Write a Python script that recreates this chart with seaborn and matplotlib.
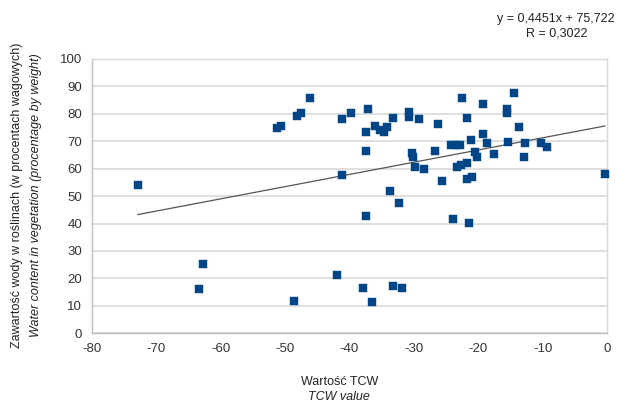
import numpy as np
import pandas as pd
import matplotlib
matplotlib.use("Agg")
import matplotlib.pyplot as plt
import seaborn as sns

# TCW values and water content
tcw = [-72.9, -51.3, -50.7, -48.2, -47.6, -46.1, -41.2, -39.8, -41.2, -37.2,
       -37.4, -37.5, -36.0, -35.3, -34.7, -34.1, -33.2, -30.7, -30.7, -29.2,
       -26.3, -22.5, -19.2, -21.8, -14.5, -15.6, -15.6, -13.7, -30.3, -30.1,
       -29.8, -28.5, -26.7, -25.7, -33.7, -32.3, -37.5, -23.9, -21.5, -24.3,
       -23.4, -22.8, -21.1, -19.3, -18.7, -20.5, -20.2, -23.3, -22.7, -21.8,
       -21.7, -21.0, -17.5, -15.3, -12.8, -12.9, -10.3, -9.3, -0.3, -41.9,
       -37.9, -33.3, -31.9, -36.5, -62.7, -63.3, -48.6]
water = [54.1, 75.0, 75.6, 79.2, 80.4, 85.7, 78.0, 80.2, 57.7, 81.8,
         73.5, 66.6, 75.6, 74.1, 73.5, 75.3, 78.4, 80.8, 79.0, 78.0,
         76.2, 85.7, 83.6, 78.4, 87.7, 81.7, 80.4, 75.1, 65.6, 64.4,
         60.5, 60.0, 66.5, 55.6, 51.8, 47.4, 42.9, 41.6, 40.1, 68.6,
         68.6, 68.6, 70.5, 72.5, 69.3, 66.2, 64.4, 60.7, 61.4, 62.0,
         56.1, 57.1, 65.3, 69.6, 69.3, 64.4, 69.3, 68.0, 58.0, 21.1,
         16.4, 17.2, 16.4, 11.3, 25.3, 16.3, 11.9]

slope = 0.4451
intercept = 75.722
r_value = 0.3022

df = pd.DataFrame({"tcw": tcw, "water": water})

sns.set_style("white")
plt.rcParams["font.family"] = ["Liberation Sans", "DejaVu Sans"]
plt.rcParams["axes.unicode_minus"] = False

fig = plt.figure(figsize=(6.19, 4.03), dpi=100)
ax = fig.add_axes([0.1486, 0.173, 0.8320, 0.6806])

grid_c = "#d9d9d9"
ax.set_xlim(-80, 0)
ax.set_ylim(0, 100)
ax.set_xticks(np.arange(-80, 1, 10))
ax.set_yticks(np.arange(0, 101, 10))
ax.yaxis.grid(True, color=grid_c, lw=1.2)
ax.set_axisbelow(True)

# trend line
xs = np.array([min(tcw), max(tcw)])
ax.plot(xs, slope * xs + intercept, color="#555555", lw=0.9, zorder=2)

sns.scatterplot(data=df, x="tcw", y="water", marker="s", s=38,
                color="#004586", edgecolor="#004586", linewidth=0.3,
                ax=ax, zorder=3, clip_on=False)

for side in ["top", "right"]:
    ax.spines[side].set_color(grid_c)
    ax.spines[side].set_linewidth(1.0)
for side in ["left", "bottom"]:
    ax.spines[side].set_color("#bdbdbd")
    ax.spines[side].set_linewidth(1.0)

ax.tick_params(axis="both", labelsize=9.5, colors="#333333", length=4,
               width=1.0, color="#bdbdbd", pad=3)
ax.set_xlabel("")
ax.set_ylabel("")

# axis titles: Polish regular + English italic
fig.text(0.548, 0.052, "Wartość TCW", ha="center", va="center",
         fontsize=9, color="#222222")
fig.text(0.548, 0.015, "TCW value", ha="center", va="center",
         fontsize=9, style="italic", color="#222222")
fig.text(0.027, 0.515, "Zawartość wody w roślinach (w procentach wagowych)",
         ha="center", va="center", rotation=90, fontsize=9, color="#222222")
fig.text(0.058, 0.515, "Water content in vegetation (procentage by weight)",
         ha="center", va="center", rotation=90, fontsize=9, style="italic",
         color="#222222")

# regression equation
eq = f"y = {slope:.4f}x + {intercept:.3f}".replace(".", ",")
fig.text(0.993, 0.952, eq, ha="right", va="center", fontsize=9,
         color="#222222")
fig.text(0.949, 0.918, f"R = {r_value:.4f}".replace(".", ","), ha="right",
         va="center", fontsize=9, color="#222222")

fig.savefig("out.png", dpi=100)
